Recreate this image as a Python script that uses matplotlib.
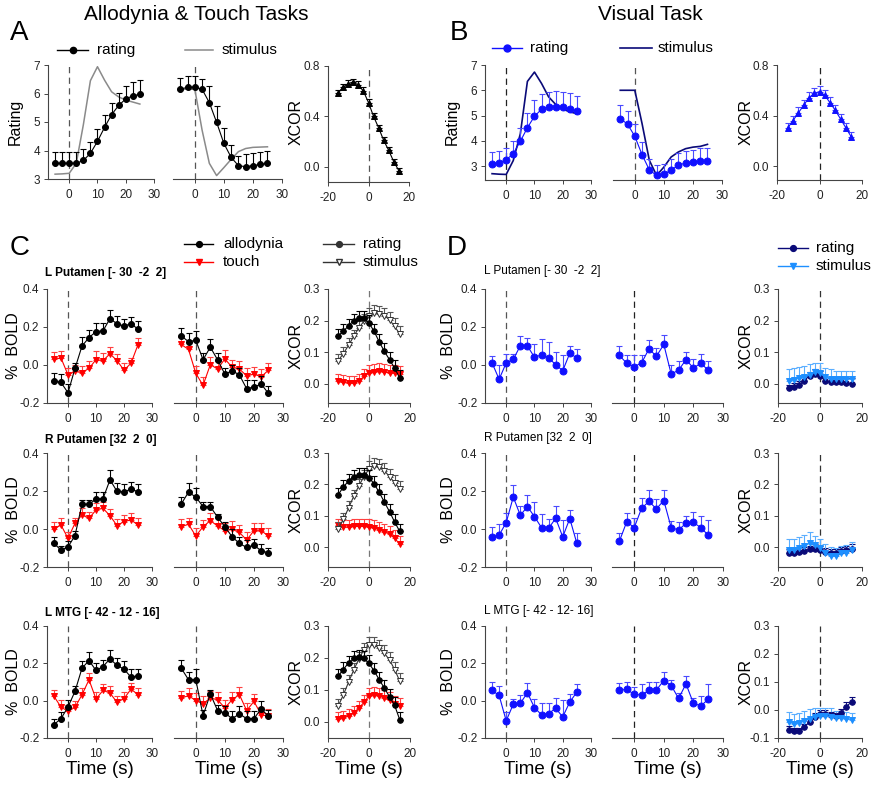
import numpy as np
import matplotlib
matplotlib.use("Agg")
import matplotlib.pyplot as plt
from matplotlib.lines import Line2D

plt.rcParams['font.family'] = ['Liberation Sans', 'DejaVu Sans']

# ---------------- data ----------------
time_pts = [-5, -2.5, 0, 2.5, 5, 7.5, 10, 12.5, 15, 17.5, 20, 22.5, 25]
lags = [-15, -12.5, -10, -7.5, -5, -2.5, 0, 2.5, 5, 7.5, 10, 12.5, 15]
time_ticks = [0, 10, 20, 30]
lag_ticks = [-20, 0, 20]

# Panel A (allodynia & touch tasks)
a_on_rating = [3.55, 3.55, 3.55, 3.55, 3.65, 3.90, 4.32, 4.81, 5.26, 5.58, 5.81, 5.92, 5.97]
a_on_rating_err = [0.40, 0.40, 0.40, 0.40, 0.42, 0.40, 0.42, 0.42, 0.42, 0.45, 0.47, 0.47, 0.49]
a_on_stim = [3.17, 3.18, 3.20, 3.55, 4.90, 6.45, 6.94, 6.47, 6.06, 5.88, 5.77, 5.70, 5.63]
a_off_rating = [6.15, 6.22, 6.22, 6.15, 5.68, 4.99, 4.25, 3.76, 3.47, 3.43, 3.47, 3.51, 3.55]
a_off_rating_err = [0.40, 0.40, 0.38, 0.35, 0.57, 0.56, 0.55, 0.44, 0.33, 0.45, 0.43, 0.44, 0.42]
a_off_stim = [6.15, 6.15, 6.15, 4.72, 3.55, 3.12, 3.40, 3.69, 3.96, 4.07, 4.11, 4.12, 4.13]
a_xcor = [0.588, 0.63, 0.66, 0.67, 0.65, 0.60, 0.51, 0.40, 0.31, 0.21, 0.13, 0.04, -0.03]
a_xcor_err = [0.025, 0.03, 0.03, 0.03, 0.03, 0.03, 0.03, 0.025, 0.025, 0.025, 0.025, 0.02, 0.02]

# Panel B (visual task)
b_on_rating = [3.09, 3.13, 3.25, 3.49, 3.98, 4.52, 4.97, 5.25, 5.34, 5.34, 5.32, 5.26, 5.17]
b_on_rating_err = [0.46, 0.47, 0.45, 0.50, 0.52, 0.58, 0.63, 0.60, 0.61, 0.63, 0.63, 0.62, 0.60]
b_on_stim = [2.70, 2.68, 2.67, 3.22, 4.28, 6.35, 6.72, 6.27, 5.74, 5.44, 5.25, 5.15, 5.07]
b_off_rating = [4.88, 4.66, 4.18, 3.45, 2.85, 2.63, 2.67, 2.85, 3.03, 3.13, 3.16, 3.19, 3.20]
b_off_rating_err = [0.52, 0.52, 0.50, 0.50, 0.45, 0.42, 0.43, 0.45, 0.47, 0.47, 0.49, 0.51, 0.52]
b_off_stim = [6.00, 6.00, 6.00, 4.68, 3.23, 2.63, 2.96, 3.36, 3.56, 3.69, 3.75, 3.78, 3.86]
b_xcor = [0.30, 0.36, 0.42, 0.48, 0.54, 0.575, 0.59, 0.56, 0.50, 0.44, 0.37, 0.30, 0.23]
b_xcor_err = [0.04, 0.04, 0.045, 0.045, 0.045, 0.045, 0.045, 0.045, 0.045, 0.04, 0.04, 0.04, 0.04]

# Panel C: regions (allodynia = black, touch = red)
c_regions = ["L Putamen [- 30  -2  2]", "R Putamen [32  2  0]", "L MTG [- 42 - 12 - 16]"]
c1_allo_on = [-0.084, -0.092, -0.146, -0.018, 0.100, 0.144, 0.176, 0.180, 0.244, 0.217, 0.205, 0.217, 0.189]
c1_allo_on_err = [0.044, 0.042, 0.046, 0.028, 0.045, 0.041, 0.044, 0.040, 0.046, 0.043, 0.035, 0.038, 0.041]
c1_touch_on = [0.030, 0.037, -0.052, -0.034, -0.040, -0.018, 0.028, 0.023, 0.059, 0.023, -0.027, 0.009, 0.107]
c1_touch_on_err = [0.040, 0.035, 0.035, 0.035, 0.035, 0.040, 0.045, 0.040, 0.035, 0.035, 0.040, 0.030, 0.035]
c1_allo_off = [0.153, 0.123, 0.130, 0.028, 0.094, 0.027, -0.048, -0.030, -0.052, -0.125, -0.116, -0.100, -0.150]
c1_allo_off_err = [0.040, 0.045, 0.050, 0.035, 0.045, 0.035, 0.030, 0.030, 0.035, 0.045, 0.035, 0.040, 0.040]
c1_touch_off = [0.108, 0.082, -0.044, -0.107, 0.002, -0.021, 0.032, -0.012, -0.021, -0.057, -0.048, -0.062, -0.027]
c1_touch_off_err = [0.040, 0.040, 0.040, 0.045, 0.040, 0.040, 0.045, 0.040, 0.040, 0.040, 0.040, 0.040, 0.040]
c1_xcor_rating = [0.153, 0.166, 0.184, 0.200, 0.208, 0.208, 0.193, 0.166, 0.133, 0.103, 0.077, 0.050, 0.019]
c1_xcor_stim = [0.074, 0.096, 0.122, 0.150, 0.177, 0.198, 0.214, 0.225, 0.222, 0.216, 0.203, 0.182, 0.158]
c1_xcor_touch = [0.008, 0.005, 0.003, 0.003, 0.008, 0.024, 0.035, 0.038, 0.040, 0.038, 0.035, 0.035, 0.033]

c2_allo_on = [-0.076, -0.111, -0.094, -0.035, 0.130, 0.130, 0.157, 0.160, 0.259, 0.198, 0.196, 0.210, 0.196]
c2_allo_on_err = [0.036, 0.021, 0.029, 0.025, 0.025, 0.025, 0.038, 0.035, 0.051, 0.042, 0.039, 0.035, 0.039]
c2_touch_on = [0.000, 0.021, -0.049, 0.030, 0.074, 0.056, 0.100, 0.109, 0.070, 0.018, 0.039, 0.048, 0.021]
c2_touch_on_err = [0.035, 0.035, 0.035, 0.030, 0.035, 0.035, 0.035, 0.035, 0.035, 0.035, 0.035, 0.035, 0.035]
c2_allo_off = [0.132, 0.194, 0.168, 0.118, 0.118, 0.062, 0.012, -0.041, -0.076, -0.097, -0.085, -0.115, -0.125]
c2_allo_off_err = [0.038, 0.046, 0.047, 0.022, 0.022, 0.018, 0.023, 0.041, 0.036, 0.037, 0.035, 0.035, 0.025]
c2_touch_off = [0.012, 0.025, -0.037, 0.012, 0.044, 0.016, -0.009, -0.002, -0.018, -0.058, -0.009, -0.009, -0.037]
c2_touch_off_err = [0.040, 0.035, 0.040, 0.035, 0.040, 0.040, 0.040, 0.045, 0.040, 0.040, 0.040, 0.040, 0.040]
c2_xcor_rating = [0.168, 0.192, 0.211, 0.225, 0.230, 0.230, 0.222, 0.202, 0.175, 0.144, 0.114, 0.081, 0.051]
c2_xcor_stim = [0.060, 0.089, 0.125, 0.162, 0.195, 0.225, 0.249, 0.260, 0.255, 0.244, 0.225, 0.206, 0.187]
c2_xcor_touch = [0.070, 0.065, 0.065, 0.067, 0.067, 0.067, 0.065, 0.062, 0.056, 0.049, 0.043, 0.029, 0.011]

c3_allo_on = [-0.128, -0.096, -0.034, 0.050, 0.174, 0.215, 0.162, 0.183, 0.224, 0.189, 0.169, 0.126, 0.133]
c3_allo_on_err = [0.030, 0.035, 0.035, 0.030, 0.036, 0.045, 0.038, 0.037, 0.046, 0.041, 0.041, 0.044, 0.037]
c3_touch_on = [0.023, -0.034, -0.057, -0.036, 0.032, 0.112, 0.009, 0.055, 0.041, -0.009, 0.011, 0.062, 0.032]
c3_touch_on_err = [0.035, 0.035, 0.035, 0.035, 0.035, 0.035, 0.035, 0.035, 0.035, 0.035, 0.035, 0.035, 0.035]
c3_allo_off = [0.174, 0.112, 0.112, -0.080, 0.036, -0.053, -0.066, -0.096, -0.071, -0.096, -0.096, -0.044, -0.084]
c3_allo_off_err = [0.045, 0.040, 0.060, 0.030, 0.020, 0.030, 0.040, 0.040, 0.045, 0.040, 0.040, 0.040, 0.035]
c3_touch_off = [0.014, 0.027, 0.000, -0.016, 0.014, 0.005, -0.039, 0.005, 0.032, -0.053, -0.004, -0.075, -0.084]
c3_touch_off_err = [0.040, 0.040, 0.040, 0.040, 0.040, 0.040, 0.040, 0.040, 0.040, 0.040, 0.040, 0.040, 0.040]
c3_xcor_rating = [0.144, 0.164, 0.185, 0.199, 0.202, 0.199, 0.183, 0.160, 0.132, 0.106, 0.079, 0.052, 0.007]
c3_xcor_stim = [0.050, 0.085, 0.124, 0.162, 0.196, 0.226, 0.241, 0.241, 0.231, 0.215, 0.194, 0.164, 0.128]
c3_xcor_touch = [0.010, 0.013, 0.018, 0.029, 0.043, 0.061, 0.082, 0.085, 0.082, 0.074, 0.068, 0.055, 0.050]
c_xcor_err = [0.022, 0.022, 0.022, 0.022, 0.022, 0.022, 0.025, 0.025, 0.025, 0.025, 0.025, 0.025, 0.025]

# Panel D: visual task regions
d_regions = ["L Putamen [- 30  -2  2]", "R Putamen [32  2  0]", "L MTG [- 42 - 12- 16]"]
d1_on = [0.011, -0.075, 0.011, 0.030, 0.101, 0.100, 0.041, 0.053, 0.037, 0.002, -0.030, 0.062, 0.037]
d1_on_err = [0.034, 0.075, 0.049, 0.030, 0.049, 0.040, 0.069, 0.082, 0.083, 0.068, 0.080, 0.038, 0.048]
d1_off = [0.050, 0.009, -0.009, 0.011, 0.085, 0.046, 0.108, -0.048, -0.027, 0.028, -0.016, 0.009, -0.027]
d1_off_err = [0.050, 0.041, 0.059, 0.039, 0.045, 0.044, 0.052, 0.048, 0.047, 0.042, 0.046, 0.051, 0.047]
d1_xcor_rating = [-0.014, -0.008, -0.003, 0.011, 0.026, 0.032, 0.026, 0.011, 0.007, 0.005, 0.005, 0.003, 0.000]
d1_xcor_stim = [0.011, 0.014, 0.018, 0.021, 0.028, 0.037, 0.035, 0.021, 0.016, 0.016, 0.016, 0.016, 0.016]

d2_on = [-0.044, -0.032, 0.034, 0.168, 0.072, 0.118, 0.065, 0.007, 0.004, 0.056, -0.041, 0.055, -0.076]
d2_on_err = [0.054, 0.057, 0.051, 0.062, 0.048, 0.062, 0.075, 0.073, 0.051, 0.064, 0.091, 0.045, 0.056]
d2_off = [-0.064, 0.039, 0.007, 0.109, 0.145, 0.106, 0.150, 0.007, -0.005, 0.030, 0.035, 0.007, -0.032]
d2_off_err = [0.044, 0.046, 0.053, 0.056, 0.060, 0.054, 0.055, 0.033, 0.040, 0.040, 0.055, 0.063, 0.077]
d2_xcor_rating = [-0.016, -0.016, -0.014, -0.011, -0.006, -0.005, -0.009, -0.014, -0.016, -0.016, -0.012, -0.009, -0.006]
d2_xcor_stim = [-0.009, -0.009, -0.003, 0.005, 0.013, 0.008, -0.003, -0.019, -0.027, -0.027, -0.019, -0.016, -0.009]

d3_on = [0.055, 0.028, -0.108, -0.019, -0.014, 0.042, -0.037, -0.076, -0.069, -0.041, -0.087, -0.007, 0.046]
d3_on_err = [0.045, 0.052, 0.048, 0.029, 0.044, 0.053, 0.047, 0.066, 0.059, 0.056, 0.092, 0.042, 0.044]
d3_off = [0.057, 0.060, 0.034, 0.030, 0.055, 0.057, 0.108, 0.081, 0.012, 0.090, -0.014, -0.028, 0.007]
d3_off_err = [0.038, 0.040, 0.041, 0.060, 0.045, 0.043, 0.047, 0.029, 0.028, 0.040, 0.029, 0.053, 0.083]
d3_xcor_rating = [-0.070, -0.076, -0.076, -0.061, -0.042, -0.024, -0.016, -0.013, -0.018, -0.022, -0.010, 0.012, 0.029]
d3_xcor_stim = [-0.043, -0.049, -0.046, -0.040, -0.031, -0.024, -0.022, -0.022, -0.024, -0.028, -0.028, -0.031, -0.034]
d_xcor_rating_err = [0.012, 0.012, 0.012, 0.012, 0.012, 0.015, 0.015, 0.012, 0.012, 0.012, 0.012, 0.015, 0.018]
d_xcor_stim_err = [0.035, 0.035, 0.035, 0.035, 0.035, 0.030, 0.030, 0.030, 0.030, 0.025, 0.025, 0.025, 0.025]

# ---------------- styling ----------------
W, H = 874, 789
BLACK = '#000000'
RED = '#ff0000'
RED_E = '#ff4040'
BLUE = '#1010ff'
BLUE_E = '#4a4aff'
NAVY = '#0a0a78'
LBLUE = '#1e8fff'
LBLUE_E = '#5aaeff'
GRAY = '#8a8a8a'
SPINE = '#444444'
TXT = '#222222'

fig = plt.figure(figsize=(W / 100, H / 100), dpi=100)


def pax(l, t, r, b):
    return fig.add_axes([l / W, 1 - b / H, (r - l) / W, (b - t) / H])


def setup(ax, xlim, ylim, xticks, yticks, yfmt, left=True, vcol='#555555'):
    ax.set_xlim(*xlim)
    ax.set_ylim(*ylim)
    ax.patch.set_alpha(0)
    for s in ['top', 'right']:
        ax.spines[s].set_visible(False)
    for s in ['left', 'bottom']:
        ax.spines[s].set_color(SPINE)
        ax.spines[s].set_linewidth(0.8)
    ax.set_xticks(xticks)
    ax.set_xticklabels([str(v) for v in xticks])
    ax.tick_params(axis='both', direction='out', length=3, width=0.7, color=SPINE,
                   labelsize=8.5, labelcolor=TXT, pad=2.5)
    ax.tick_params(axis='x', pad=4)
    if left:
        ax.set_yticks(yticks)
        ax.set_yticklabels([yfmt.format(v) for v in yticks])
    else:
        ax.spines['left'].set_visible(False)
        ax.tick_params(axis='y', left=False, labelleft=False)
    ax.axvline(0, ls=(0, (5, 3.5)), color=vcol, lw=0.9, zorder=1)


def series(ax, x, y, err, color, marker, ms, mfc=None, ecolor=None, lw=0.8, z=3):
    n = len(y)
    if err is not None:
        ax.errorbar(x, y, yerr=[np.zeros(n), err], fmt='none', ecolor=ecolor or color,
                    elinewidth=0.8, capsize=2.3, capthick=0.8, zorder=z - 1)
    ax.plot(x, y, color=color, lw=lw, marker=marker, ms=ms,
            mfc=mfc if mfc is not None else color, mec=color, mew=0.7, zorder=z)


def ftext(x, y, s, **kw):
    fig.text(x / W, 1 - y / H, s, **kw)


def legline(x0, x1, y, color, marker=None, ms=5, mfc=None, lw=1.0):
    fig.add_artist(Line2D([x0 / W, x1 / W], [1 - y / H, 1 - y / H], color=color, lw=lw,
                          transform=fig.transFigure))
    if marker:
        xm = (x0 + x1) / 2
        fig.add_artist(Line2D([xm / W], [1 - y / H], marker=marker, ms=ms, color=color,
                              mfc=mfc if mfc is not None else color, mec=color,
                              transform=fig.transFigure))


TLIM = (-7.5, 30)
LLIM = (-20, 20)
MS_K = 4.3   # black / red markers
MS_B = 5.0   # blue markers

# ---------------- Row A / B ----------------
ax = pax(48, 65, 154, 179)
setup(ax, TLIM, (3, 7), time_ticks, [3, 4, 5, 6, 7], "{:.0f}")
ax.plot(time_pts, a_on_stim, color=GRAY, lw=1.1, zorder=2)
series(ax, time_pts, a_on_rating, a_on_rating_err, BLACK, 'o', MS_K)

ax = pax(173, 65, 282, 179)
setup(ax, TLIM, (3, 7), time_ticks, [], "{:.0f}", left=False)
ax.plot(time_pts, a_off_stim, color=GRAY, lw=1.1, zorder=2)
series(ax, time_pts, a_off_rating, a_off_rating_err, BLACK, 'o', MS_K)

ax = pax(328, 66, 409, 182)
setup(ax, LLIM, (-0.12, 0.8), lag_ticks, [0.0, 0.4, 0.8], "{:.1f}")
series(ax, lags, a_xcor, a_xcor_err, BLACK, '^', 4.0)

ax = pax(485, 65, 591, 180)
setup(ax, TLIM, (2.45, 7), time_ticks, [3, 4, 5, 6, 7], "{:.0f}", vcol='#222222')
ax.plot(time_pts, b_on_stim, color=NAVY, lw=1.2, zorder=2)
series(ax, time_pts, b_on_rating, b_on_rating_err, BLUE, 'o', MS_B, ecolor=BLUE_E)

ax = pax(613, 65, 722, 180)
setup(ax, TLIM, (2.45, 7), time_ticks, [], "{:.0f}", left=False)
ax.plot(time_pts, b_off_stim, color=NAVY, lw=1.2, zorder=2)
series(ax, time_pts, b_off_rating, b_off_rating_err, BLUE, 'o', MS_B, ecolor=BLUE_E)

ax = pax(777, 65, 862, 180)
setup(ax, LLIM, (-0.11, 0.8), lag_ticks, [0.0, 0.4, 0.8], "{:.1f}", vcol='#222222')
series(ax, lags, b_xcor, b_xcor_err, BLUE, '^', 4.5, ecolor=BLUE_E)

# ---------------- Rows C / D ----------------
rows = [(289, 403), (453, 567), (626, 738)]
c_data = [
    (c1_allo_on, c1_allo_on_err, c1_touch_on, c1_touch_on_err,
     c1_allo_off, c1_allo_off_err, c1_touch_off, c1_touch_off_err,
     c1_xcor_rating, c1_xcor_stim, c1_xcor_touch),
    (c2_allo_on, c2_allo_on_err, c2_touch_on, c2_touch_on_err,
     c2_allo_off, c2_allo_off_err, c2_touch_off, c2_touch_off_err,
     c2_xcor_rating, c2_xcor_stim, c2_xcor_touch),
    (c3_allo_on, c3_allo_on_err, c3_touch_on, c3_touch_on_err,
     c3_allo_off, c3_allo_off_err, c3_touch_off, c3_touch_off_err,
     c3_xcor_rating, c3_xcor_stim, c3_xcor_touch),
]
d_data = [
    (d1_on, d1_on_err, d1_off, d1_off_err, d1_xcor_rating, d1_xcor_stim),
    (d2_on, d2_on_err, d2_off, d2_off_err, d2_xcor_rating, d2_xcor_stim),
    (d3_on, d3_on_err, d3_off, d3_off_err, d3_xcor_rating, d3_xcor_stim),
]
c_xcor_ylims = [(-0.06, 0.3), (-0.062, 0.3), (-0.05, 0.3)]
d_xcor_ylims = [(-0.06, 0.3), (-0.062, 0.3), (-0.1, 0.3)]
d_xcor_ticks = [[0.0, 0.1, 0.2, 0.3], [0.0, 0.1, 0.2, 0.3], [-0.1, 0.0, 0.1, 0.2, 0.3]]
bold_ticks = [-0.2, 0.0, 0.2, 0.4]

for i, (t, b) in enumerate(rows):
    ao, aoe, to, toe, af, afe, tf, tfe, xr, xs, xt = c_data[i]
    ax = pax(47, t, 152, b)
    setup(ax, TLIM, (-0.2, 0.4), time_ticks, bold_ticks, "{:.1f}")
    series(ax, time_pts, to, toe, RED, 'v', MS_K + 0.3, ecolor=RED_E, z=3)
    series(ax, time_pts, ao, aoe, BLACK, 'o', MS_K, z=4)
    if i == 2:
        ax.set_xlabel("Time (s)", fontsize=13.5, labelpad=1)

    ax = pax(174, t, 283, b)
    setup(ax, TLIM, (-0.2, 0.4), time_ticks, [], "{:.1f}", left=False)
    series(ax, time_pts, tf, tfe, RED, 'v', MS_K + 0.3, ecolor=RED_E, z=3)
    series(ax, time_pts, af, afe, BLACK, 'o', MS_K, z=4)
    if i == 2:
        ax.set_xlabel("Time (s)", fontsize=13.5, labelpad=1)

    ax = pax(328, t, 410, b)
    setup(ax, LLIM, c_xcor_ylims[i], lag_ticks, [0.0, 0.1, 0.2, 0.3], "{:.1f}", vcol='#777777')
    series(ax, lags, xt, c_xcor_err, RED, 'v', 4.0, ecolor=RED_E, z=3)
    series(ax, lags, xs, c_xcor_err, '#333333', 'v', 4.0, mfc='white', ecolor='#555555', z=4)
    series(ax, lags, xr, c_xcor_err, BLACK, 'o', 4.0, z=5)
    if i == 2:
        ax.set_xlabel("Time (s)", fontsize=13.5, labelpad=1)

    don, done, doff, doffe, dxr, dxs = d_data[i]
    ax = pax(485, t, 591, b)
    setup(ax, TLIM, (-0.2, 0.4), time_ticks, bold_ticks, "{:.1f}")
    series(ax, time_pts, don, done, BLUE, 'o', MS_B, ecolor=BLUE_E)
    if i == 2:
        ax.set_xlabel("Time (s)", fontsize=13.5, labelpad=1)

    ax = pax(612, t, 723, b)
    setup(ax, TLIM, (-0.2, 0.4), time_ticks, [], "{:.1f}", left=False, vcol='#222222')
    series(ax, time_pts, doff, doffe, BLUE, 'o', MS_B, ecolor=BLUE_E)
    if i == 2:
        ax.set_xlabel("Time (s)", fontsize=13.5, labelpad=1)

    ax = pax(778, t, 862, b)
    setup(ax, LLIM, d_xcor_ylims[i], lag_ticks, d_xcor_ticks[i], "{:.1f}", vcol='#333333')
    series(ax, lags, dxs, d_xcor_stim_err, LBLUE, 'v', 4.0, ecolor=LBLUE_E, z=4)
    series(ax, lags, dxr, d_xcor_rating_err, NAVY, 'o', 4.0, z=3)
    if i == 2:
        ax.set_xlabel("Time (s)", fontsize=13.5, labelpad=1)

# ---------------- texts ----------------
ftext(10, 33, "A", fontsize=20, va='center', ha='left')
ftext(450, 33, "B", fontsize=20, va='center', ha='left')
ftext(10, 248, "C", fontsize=20, va='center', ha='left')
ftext(447, 248, "D", fontsize=20, va='center', ha='left')
ftext(196, 14, "Allodynia & Touch Tasks", fontsize=15, va='center', ha='center')
ftext(650, 14, "Visual Task", fontsize=15, va='center', ha='center')

# legends A / B
legline(57, 88, 50, BLACK, 'o', 4.5)
ftext(97, 50, "rating", fontsize=11, va='center')
legline(185, 213, 50, GRAY, lw=1.1)
ftext(222, 50, "stimulus", fontsize=11, va='center')
legline(492, 522, 48, BLUE, 'o', 5)
ftext(530, 48, "rating", fontsize=11, va='center')
legline(620, 652, 48, NAVY, lw=1.2)
ftext(658, 48, "stimulus", fontsize=11, va='center')

# legends C
legline(184, 213, 244, BLACK, 'o', 4.2)
ftext(223, 244, "allodynia", fontsize=11, va='center')
legline(184, 213, 262, RED, 'v', 4.6)
ftext(223, 262, "touch", fontsize=11, va='center')
legline(323, 354, 244, '#333333', 'o', 4.2)
ftext(363, 244, "rating", fontsize=11, va='center')
legline(323, 354, 262, '#333333', 'v', 4.6, mfc='white')
ftext(363, 262, "stimulus", fontsize=11, va='center')
# legend D
legline(778, 808, 248, NAVY, 'o', 4.2)
ftext(816, 248, "rating", fontsize=11, va='center')
legline(778, 808, 266, LBLUE, 'v', 4.2)
ftext(816, 266, "stimulus", fontsize=11, va='center')

# y labels
ftext(15, 122, "Rating", fontsize=11.5, rotation=90, va='center', ha='center')
ftext(296, 122, "XCOR", fontsize=11.5, rotation=90, va='center', ha='center')
ftext(452, 122, "Rating", fontsize=11.5, rotation=90, va='center', ha='center')
ftext(746, 122, "XCOR", fontsize=11.5, rotation=90, va='center', ha='center')

label_y = [273, 440, 613]
ylab_y = [346, 510, 682]
for i in range(3):
    ftext(45, label_y[i], c_regions[i], fontsize=8.5, fontweight='bold', va='center', ha='left')
    ftext(484, label_y[i] - 2, d_regions[i], fontsize=8.5, va='center', ha='left')
    ftext(14, ylab_y[i], "%  BOLD", fontsize=11.5, rotation=90, va='center', ha='center')
    ftext(296, ylab_y[i], "XCOR", fontsize=11.5, rotation=90, va='center', ha='center')
    ftext(449, ylab_y[i], "%  BOLD", fontsize=11.5, rotation=90, va='center', ha='center')
    ftext(746, ylab_y[i], "XCOR", fontsize=11.5, rotation=90, va='center', ha='center')

fig.savefig("out.png", dpi=100)
